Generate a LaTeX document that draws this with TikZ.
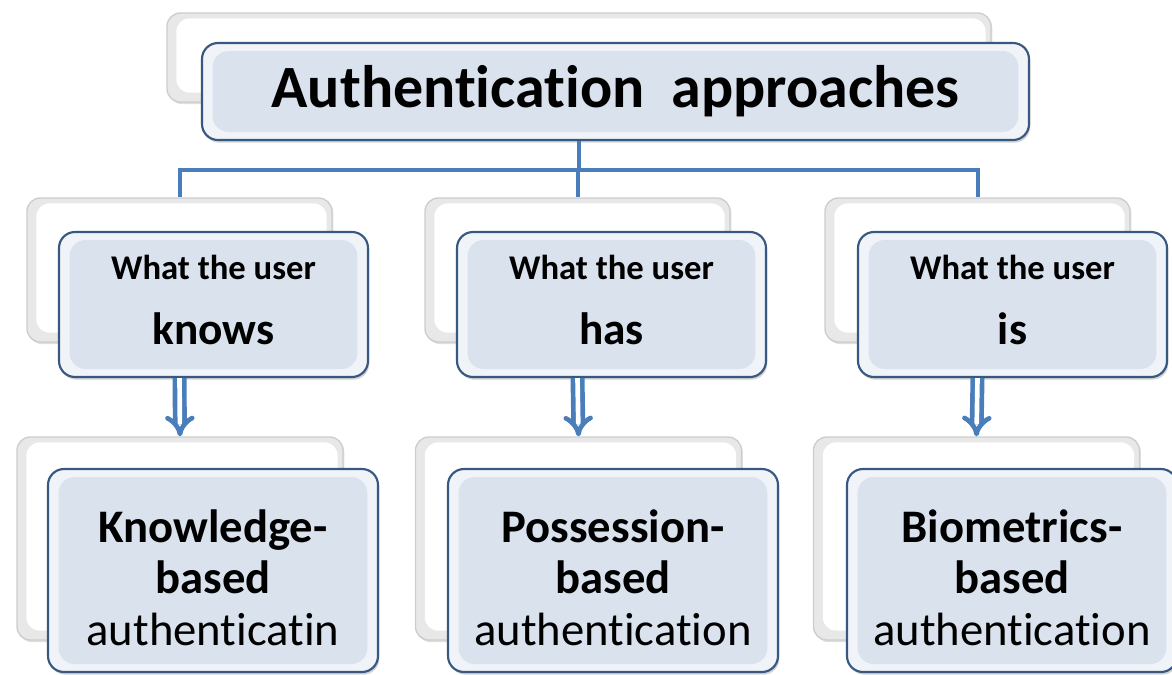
\documentclass[tikz,border=0pt]{standalone}
\usepackage{fontspec}
\setmainfont{Carlito}[Ligatures=NoCommon]
\usetikzlibrary{arrows.meta,shadows}

\definecolor{boxline}{RGB}{55,88,128}
\definecolor{boxfill}{RGB}{240,244,249}
\definecolor{boxinner}{RGB}{218,226,238}
\definecolor{backline}{RGB}{205,205,205}
\definecolor{backfill}{RGB}{232,232,232}
\definecolor{linkblue}{RGB}{74,126,187}

\tikzset{every picture/.style={line width=0.75pt}}
\tikzset{
  backbox/.style={draw=backline, line width=1pt, rounded corners=10, fill=backfill,
    drop shadow={shadow xshift=1pt, shadow yshift=-1.5pt, opacity=.25},
    path picture={\fill[white] ([shift={(7pt,-4pt)}]path picture bounding box.north west)
      rectangle ([shift={(-4pt,7pt)}]path picture bounding box.south east);}},
  frontbox/.style={draw=boxline, line width=1.6pt, rounded corners=12, fill=boxfill,
    inner sep=0pt, align=center,
    drop shadow={shadow xshift=1pt, shadow yshift=-2pt, opacity=.35},
    path picture={\fill[boxinner] ([shift={(8pt,-6pt)}]path picture bounding box.north west)
      rectangle ([shift={(-8pt,6pt)}]path picture bounding box.south east);}},
  userbox/.style={frontbox, minimum width=231.75pt, minimum height=108.75pt,
    font=\bfseries\fontsize{26}{48.75}\selectfont, text depth=6.6pt},
  basedbox/.style={frontbox, minimum width=247.5pt, minimum height=152.25pt,
    font=\fontsize{35}{38.6}\selectfont},
  busline/.style={draw=linkblue, line width=3pt},
  downarrow/.style={draw=linkblue, line width=3.5pt, double=white, double distance=3.5pt,
    -{Implies[length=5pt]}},
}

\begin{document}
\begin{tikzpicture}[x=0.75pt,y=0.75pt,yscale=-1,xscale=1]
\useasboundingbox (0,0) rectangle (1172,675);

%Shape: Back boxes
\node[backbox, minimum width=618pt, minimum height=66.75pt] (topback) at (579,57.5) {};
\node[backbox, minimum width=228.75pt, minimum height=108pt] (knowsback) at (179.5,270) {};
\node[backbox, minimum width=228.75pt, minimum height=108pt] (hasback) at (577.5,270) {};
\node[backbox, minimum width=228.75pt, minimum height=108pt] (isback) at (977.5,270) {};
\node[backbox, minimum width=244.5pt, minimum height=152.25pt] (kbback) at (180,538.5) {};
\node[backbox, minimum width=244.5pt, minimum height=152.25pt] (pbback) at (578.5,538.5) {};
\node[backbox, minimum width=244.5pt, minimum height=152.25pt] (bbback) at (976.5,538.5) {};

%Shape: Front boxes
% Text Node
\node[frontbox, minimum width=620.25pt, minimum height=72.75pt, font=\bfseries\fontsize{45}{54}\selectfont] (top) at (615.5,91.5) {Authentication\ \ approaches};
% Text Node
\node[userbox] (knows) at (213.5,304.5) {What the user\\{\fontsize{34}{48.75}\selectfont knows}};
% Text Node
\node[userbox] (has) at (611.5,304.5) {What the user\\{\fontsize{34}{48.75}\selectfont has}};
% Text Node
\node[userbox] (is) at (1012.5,304.5) {What the user\\{\fontsize{34}{48.75}\selectfont is}};
% Text Node
\node[basedbox] (kb) at (213,570.5) {\rule{0pt}{35pt}\textbf{Knowledge-}\\\textbf{based}\\authenticatin};
% Text Node
\node[basedbox] (pb) at (613,570.5) {\rule{0pt}{35pt}\textbf{Possession-}\\\textbf{based}\\authentication};
% Text Node
\node[basedbox] (bb) at (1012,570.5) {\rule{0pt}{35pt}\textbf{Biometrics-}\\\textbf{based}\\authentication};

%Straight Lines
\coordinate (bus) at (577.5,170);
\draw[busline] (topback.center |- top.south) -- (topback.center |- bus);
\draw[busline] (knowsback.north) |- (bus) -| (isback.north);
\draw[busline] (bus) -- (hasback.north);

%Double Arrows
\draw[downarrow] (knowsback.center |- knows.south) -- (kbback.north);
\draw[downarrow] (hasback.center |- has.south) -- (pbback.north);
\draw[downarrow] (isback.center |- is.south) -- (bbback.north);

\end{tikzpicture}
\end{document}
